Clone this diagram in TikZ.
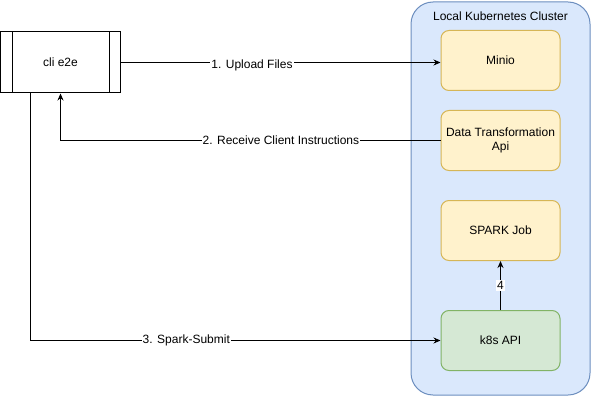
\documentclass[tikz,border=0pt]{standalone}
\usepackage{fontspec}
\setmainfont{Liberation Sans}
\usetikzlibrary{arrows.meta}
\definecolor{yfill}{HTML}{FFF2CC}
\definecolor{ydraw}{HTML}{D6B656}
\definecolor{gfill}{HTML}{D5E8D4}
\definecolor{gdraw}{HTML}{82B366}
\definecolor{bfill}{HTML}{DAE8FC}
\definecolor{bdraw}{HTML}{6C8EBF}
\begin{document}
\begin{tikzpicture}[x=1pt,y=-1pt,font=\fontsize{12}{14}\selectfont]
\useasboundingbox (0,0) rectangle (591,401);
% cluster
\draw[draw=bdraw,fill=bfill,line width=1pt,rounded corners=22pt] (411,2) rectangle (590,395);
\node (cluster) at (500.5,16) {Local Kubernetes Cluster};

\begin{scope}[every node/.style={draw,line width=1pt,rounded corners=8pt,
              minimum width=119pt,minimum height=60pt,align=center,inner sep=2pt}]
    \node[draw=ydraw,fill=yfill] (minio) at (500.5,60.5) {Minio};
    \node[draw=ydraw,fill=yfill] (dta) at (500.5,140.5) {Data Transformation\\Api};
    \node[draw=ydraw,fill=yfill] (spark) at (500.5,230.5) {SPARK Job};
    \node[draw=gdraw,fill=gfill] (k8s) at (500.5,340.5) {k8s API};
    \node[draw=black,fill=white,rounded corners=0pt,minimum width=120pt,minimum height=61pt] (cli) at (60.5,62.5) {cli e2e};
\end{scope}
\draw[line width=1pt] ([xshift=12pt]cli.north west) -- ([xshift=12pt]cli.south west);
\draw[line width=1pt] ([xshift=-12pt]cli.north east) -- ([xshift=-12pt]cli.south east);

\begin{scope}[>={Stealth[length=7pt,width=6pt]},
              every node/.style={fill=white,inner sep=1pt},
              line width=1pt]
    \draw [->] (cli.east) -- node[pos=0.41,yshift=-3pt] {1. Upload Files} (cli.east -| minio.west);
    \draw [->] (dta.west) -- node[pos=0.42] {2. Receive Client Instructions} (dta.west -| cli.south) -- (cli.south);
    \draw [->] ([xshift=-30pt]cli.south) |- node[pos=0.69] {3. Spark-Submit} (k8s.west);
    \draw [->] (k8s.north) -- node {4} (spark.south);
\end{scope}
\end{tikzpicture}
\end{document}
